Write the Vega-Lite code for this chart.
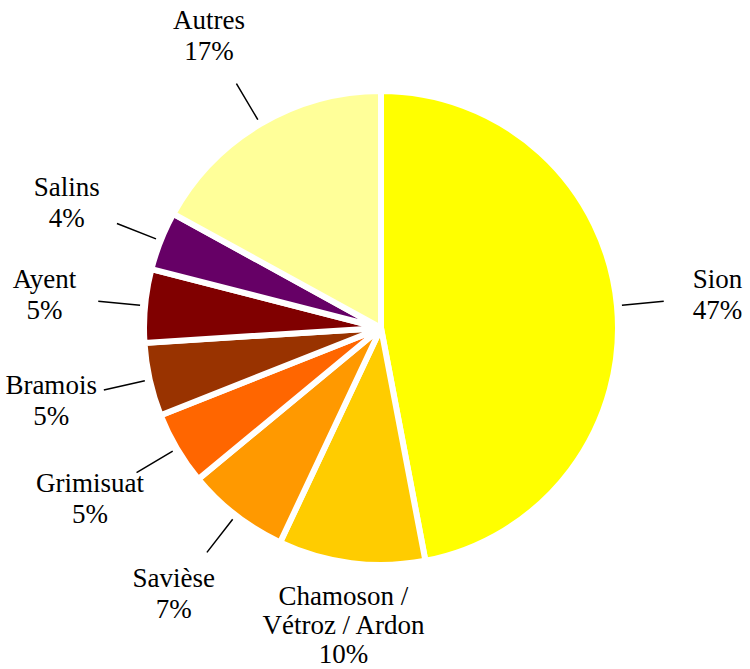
{
  "$schema": "https://vega.github.io/schema/vega-lite/v6.json",
  "width": 738,
  "height": 656,
  "autosize": {"type": "none"},
  "padding": {"left": 12, "top": 0, "right": 0, "bottom": 13},
  "background": "white",
  "view": {"stroke": null},
  "data": {
    "values": [
      {"idx": 1, "name": "Sion", "share": 47, "label": "Sion\n47%"},
      {"idx": 2, "name": "Chamoson / Vétroz / Ardon", "share": 10, "label": "Chamoson /\nVétroz / Ardon\n10%"},
      {"idx": 3, "name": "Savièse", "share": 7, "label": "Savièse\n7%"},
      {"idx": 4, "name": "Grimisuat", "share": 5, "label": "Grimisuat\n5%"},
      {"idx": 5, "name": "Bramois", "share": 5, "label": "Bramois\n5%"},
      {"idx": 6, "name": "Ayent", "share": 5, "label": "Ayent\n5%"},
      {"idx": 7, "name": "Salins", "share": 4, "label": "Salins\n4%"},
      {"idx": 8, "name": "Autres", "share": 17, "label": "Autres\n17%"}
    ]
  },
  "encoding": {
    "theta": {"field": "share", "type": "quantitative", "stack": true},
    "order": {"field": "idx", "type": "quantitative"}
  },
  "layer": [
    {
      "mark": {"type": "arc", "outerRadius": 237, "stroke": "white", "strokeWidth": 6},
      "encoding": {
        "color": {
          "field": "name",
          "type": "nominal",
          "scale": {
            "domain": ["Sion", "Chamoson / Vétroz / Ardon", "Savièse", "Grimisuat", "Bramois", "Ayent", "Salins", "Autres"],
            "range": ["#FFFF00", "#FFCC00", "#FF9900", "#FF6600", "#993300", "#800000", "#660066", "#FFFF99"]
          },
          "legend": null
        }
      }
    },
    {
      "mark": {"type": "arc", "innerRadius": 242, "outerRadius": 284, "padAngle": 3, "stroke": "black", "strokeWidth": 1.5, "fillOpacity": 0},
      "encoding": {
        "strokeOpacity": {"condition": {"test": "datum.name === 'Chamoson / Vétroz / Ardon'", "value": 0}, "value": 1}
      }
    },
    {
      "mark": {"type": "text", "radius": 338, "dy": -16, "font": "Liberation Serif", "fontSize": 27, "lineBreak": "\n", "lineHeight": 31, "color": "black", "baseline": "middle", "align": "center"},
      "encoding": {
        "text": {"field": "label"},
        "opacity": {"condition": {"test": "datum.name === 'Chamoson / Vétroz / Ardon'", "value": 0}, "value": 1}
      }
    },
    {
      "mark": {"type": "text", "radius": 300, "dy": -29, "font": "Liberation Serif", "fontSize": 27, "lineBreak": "\n", "lineHeight": 29, "color": "black", "baseline": "middle", "align": "center"},
      "encoding": {
        "text": {"field": "label"},
        "opacity": {"condition": {"test": "datum.name === 'Chamoson / Vétroz / Ardon'", "value": 1}, "value": 0}
      }
    }
  ]
}
